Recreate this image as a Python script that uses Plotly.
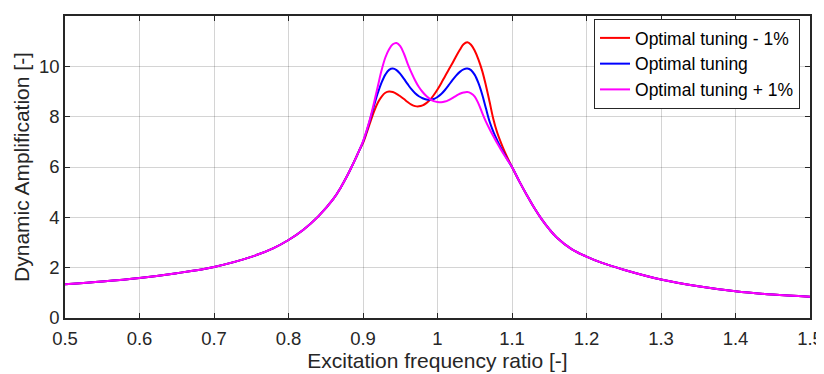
import plotly.graph_objects as go

# ---- data ----
x_left = [0.50, 0.55, 0.60, 0.65, 0.70, 0.75, 0.78, 0.80, 0.82, 0.84, 0.86, 0.87, 0.88, 0.885, 0.89, 0.895]
y_left = [1.34, 1.45, 1.59, 1.78, 2.03, 2.43, 2.78, 3.10, 3.51, 4.04, 4.72, 5.18, 5.72, 6.02, 6.33, 6.66]

x_peak = [0.900, 0.905, 0.910, 0.915, 0.920, 0.925, 0.930, 0.935, 0.940, 0.945,
          0.950, 0.955, 0.960, 0.965, 0.970, 0.975, 0.980, 0.985, 0.990, 0.995,
          1.000, 1.005, 1.010, 1.015, 1.020, 1.025, 1.030, 1.035, 1.040, 1.045,
          1.050, 1.055, 1.060, 1.065, 1.070, 1.075, 1.080, 1.085, 1.090, 1.095, 1.100]

red_peak = [6.95, 7.36, 7.80, 8.22, 8.56, 8.80, 8.95, 9.00, 8.98, 8.91,
            8.81, 8.70, 8.58, 8.48, 8.42, 8.41, 8.45, 8.54, 8.67, 8.86,
            9.08, 9.33, 9.60, 9.86, 10.12, 10.40, 10.66, 10.88, 10.96, 10.86,
            10.62, 10.27, 9.82, 9.24, 8.58, 7.90, 7.38, 6.98, 6.62, 6.30, 6.00]

blue_peak = [7.00, 7.43, 7.94, 8.46, 8.95, 9.36, 9.67, 9.86, 9.91, 9.85,
             9.70, 9.50, 9.29, 9.09, 8.93, 8.81, 8.73, 8.68, 8.67, 8.70,
             8.78, 8.90, 9.06, 9.25, 9.45, 9.63, 9.78, 9.88, 9.91, 9.85,
             9.66, 9.33, 8.88, 8.33, 7.80, 7.40, 7.07, 6.77, 6.50, 6.24, 6.00]

magenta_peak = [7.02, 7.47, 7.98, 8.58, 9.22, 9.85, 10.35, 10.68, 10.88, 10.93,
                10.80, 10.50, 10.10, 9.75, 9.44, 9.18, 8.98, 8.82, 8.70, 8.62,
                8.58, 8.57, 8.60, 8.66, 8.74, 8.83, 8.91, 8.96, 8.98, 8.93,
                8.80, 8.52, 8.15, 7.80, 7.50, 7.22, 6.95, 6.70, 6.46, 6.23, 6.00]

x_right = [1.11, 1.12, 1.13, 1.14, 1.15, 1.16, 1.18, 1.20, 1.22, 1.25, 1.30, 1.35, 1.40, 1.45, 1.50]
y_right = [5.42, 4.88, 4.37, 3.92, 3.53, 3.20, 2.74, 2.44, 2.20, 1.92, 1.53, 1.26, 1.06, 0.93, 0.84]

series_names = ["Optimal tuning - 1%", "Optimal tuning", "Optimal tuning + 1%"]
series_peaks = [red_peak, blue_peak, magenta_peak]
series_colors = ["#ff0000", "#0000ff", "#ff00ff"]

x_tick_vals = [0.5, 0.6, 0.7, 0.8, 0.9, 1.0, 1.1, 1.2, 1.3, 1.4, 1.5]
x_tick_labels = ["0.5", "0.6", "0.7", "0.8", "0.9", "1", "1.1", "1.2", "1.3", "1.4", "1.5"]
y_tick_vals = [0, 2, 4, 6, 8, 10, 12]
y_tick_labels = ["0", "2", "4", "6", "8", "10", "12"]

# ---- figure ----
fig = go.Figure()
x_all = x_left + x_peak + x_right
for name, peak, color in zip(series_names, series_peaks, series_colors):
    fig.add_trace(go.Scatter(
        x=x_all, y=y_left + peak + y_right, mode="lines", name=name,
        line=dict(color=color, width=2, shape="spline", smoothing=1.0),
    ))

axis_col = "#262626"
grid_col = "rgba(38,38,38,0.2)"
common_axis = dict(
    showline=True, linecolor=axis_col, linewidth=1.5, mirror="ticks",
    ticks="inside", ticklen=5, tickwidth=1, tickcolor=axis_col,
    showgrid=True, gridcolor=grid_col, gridwidth=1, zeroline=False,
    tickfont=dict(size=18.5, color=axis_col), automargin=False,
)
fig.update_xaxes(range=[0.5, 1.5], tickvals=x_tick_vals, ticktext=x_tick_labels,
                 ticklabelstandoff=3,
                 title=dict(text="Excitation frequency ratio [-]", font=dict(size=21, color=axis_col), standoff=5),
                 **common_axis)
fig.update_yaxes(range=[0, 12], tickvals=y_tick_vals, ticktext=y_tick_labels,
                 title=dict(text="Dynamic Amplification [-]", font=dict(size=21, color=axis_col), standoff=4),
                 **common_axis)

# the page body has an 8px margin, so the figure is 8px smaller and shifted
fig.update_layout(
    width=816, height=366,
    margin=dict(l=57, r=14, t=8, b=56),
    plot_bgcolor="white", paper_bgcolor="white",
    font=dict(family="Liberation Sans, Arial, Helvetica, sans-serif", size=18, color=axis_col),
    showlegend=True,
    legend=dict(x=0.9866, xanchor="right", y=0.99, yanchor="top",
                bgcolor="white", bordercolor=axis_col, borderwidth=1,
                font=dict(size=17.5, color="#000000"), tracegroupgap=0),
)

fig.write_html("out.html")
